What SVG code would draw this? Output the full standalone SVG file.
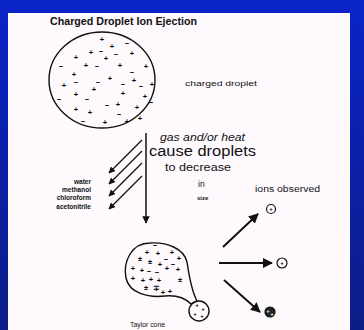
<svg xmlns="http://www.w3.org/2000/svg" width="364" height="330" viewBox="0 0 364 330">
  <defs>
    <linearGradient id="frame" x1="0" y1="0" x2="0" y2="1">
      <stop offset="0" stop-color="#0a24c8"/>
      <stop offset="1" stop-color="#0c1c86"/>
    </linearGradient>
    <marker id="headBig" viewBox="0 0 10 10" refX="9" refY="5" markerWidth="5" markerHeight="5" orient="auto" markerUnits="strokeWidth">
      <path d="M0,0 L10,5 L0,10 Z" fill="#111"/>
    </marker>
    <marker id="headSmall" viewBox="0 0 10 10" refX="9" refY="5" markerWidth="5.5" markerHeight="5.5" orient="auto" markerUnits="strokeWidth">
      <path d="M0,0 L10,5 L0,10 Z" fill="#111"/>
    </marker>
    <marker id="headDown" viewBox="0 0 10 10" refX="9" refY="5" markerWidth="5" markerHeight="5" orient="auto" markerUnits="strokeWidth">
      <path d="M0,0 L10,5 L0,10 Z" fill="#111"/>
    </marker>
  </defs>
  <style>
    .lbl { font-family: "Liberation Sans", Arial, sans-serif; fill: #111; }
    .sg { font-family: "Liberation Sans", Arial, sans-serif; font-weight: bold; fill: #000; text-anchor: middle; dominant-baseline: central; font-size: 7.5px; }
    .sgs { font-family: "Liberation Sans", Arial, sans-serif; font-weight: bold; fill: #000; text-anchor: middle; dominant-baseline: central; font-size: 6px; }
    .ln { stroke: #111; fill: none; }
    .shape { stroke: #111; stroke-width: 1.4; fill: #fdf9fd; }
  </style>

  <!-- frame and page -->
  <rect x="0" y="0" width="364" height="330" fill="url(#frame)"/>
  <rect x="8" y="13" width="342" height="317" fill="#fdf9fd"/>

  <text class="lbl" x="50" y="25" font-size="10" font-weight="bold" textLength="147" lengthAdjust="spacingAndGlyphs">Charged Droplet Ion Ejection</text>

  <!-- charged droplet -->
  <g id="droplet">
    <ellipse class="shape" cx="102" cy="80" rx="53" ry="48"/>
    <g>
      <text class="sg" x="102" y="39">+</text>
      <text class="sg" x="127" y="43">−</text>
      <text class="sg" x="112" y="46">+</text>
      <text class="sg" x="91" y="52">+</text>
      <text class="sg" x="101" y="51">−</text>
      <text class="sg" x="132" y="53">+</text>
      <text class="sg" x="116" y="54">−</text>
      <text class="sg" x="106" y="58">+</text>
      <text class="sg" x="76" y="57">+</text>
      <text class="sg" x="61" y="66">−</text>
      <text class="sg" x="86" y="65">+</text>
      <text class="sg" x="97" y="66">−</text>
      <text class="sg" x="120" y="65">+</text>
      <text class="sg" x="146" y="66">+</text>
      <text class="sg" x="132" y="72">−</text>
      <text class="sg" x="74" y="74">+</text>
      <text class="sg" x="110" y="78">+</text>
      <text class="sg" x="98" y="82">−</text>
      <text class="sg" x="76" y="82">−</text>
      <text class="sg" x="134" y="80">+</text>
      <text class="sg" x="123" y="84">−</text>
      <text class="sg" x="141" y="86">−</text>
      <text class="sg" x="152" y="84">+</text>
      <text class="sg" x="64" y="85">+</text>
      <text class="sg" x="94" y="89">+</text>
      <text class="sg" x="123" y="93">+</text>
      <text class="sg" x="145" y="96">+</text>
      <text class="sg" x="76" y="94">+</text>
      <text class="sg" x="87" y="99">−</text>
      <text class="sg" x="59" y="99">−</text>
      <text class="sg" x="118" y="104">+</text>
      <text class="sg" x="107" y="105">−</text>
      <text class="sg" x="137" y="107">+</text>
      <text class="sg" x="151" y="102">−</text>
      <text class="sg" x="76" y="109">+</text>
      <text class="sg" x="90" y="112">+</text>
      <text class="sg" x="119" y="114">−</text>
      <text class="sg" x="140" y="118">+</text>
      <text class="sg" x="83" y="121">−</text>
      <text class="sg" x="105" y="122">+</text>
      <text class="sg" x="127" y="121">+</text>
    </g>
  </g>
  <text class="lbl" x="185" y="86" font-size="8" textLength="72" lengthAdjust="spacingAndGlyphs">charged droplet</text>

  <!-- central captions -->
  <text class="lbl" x="160" y="141" font-size="10" font-style="italic" textLength="85" lengthAdjust="spacingAndGlyphs">gas and/or heat</text>
  <text class="lbl" x="149" y="156" font-size="14" textLength="107" lengthAdjust="spacingAndGlyphs">cause droplets</text>
  <text class="lbl" x="165" y="171" font-size="10" textLength="66" lengthAdjust="spacingAndGlyphs">to decrease</text>
  <text class="lbl" x="198" y="187" font-size="8.5">in</text>
  <text class="lbl" x="197" y="200" font-size="6" font-weight="bold">size</text>

  <!-- solvents -->
  <g id="solvents" class="lbl" font-size="6.5" font-weight="bold" text-anchor="end">
    <text x="91" y="184">water</text>
    <text x="91" y="192">methanol</text>
    <text x="91" y="200">chloroform</text>
    <text x="91" y="209">acetonitrile</text>
  </g>

  <!-- Taylor cone -->
  <g id="taylor-cone">
    <path class="shape" d="M150,243 C131,243 123,262 126,278 C129,293 148,298 165,296 C176,295 184,297 191,304 L197,301 C191,290 189,275 187,262 C184,249 168,242 150,243 Z"/>
    <circle class="shape" cx="199" cy="311" r="10"/>
    <g>
      <text class="sg" x="147" y="252">+</text>
      <text class="sg" x="155" y="245">−</text>
      <text class="sg" x="158" y="253">+</text>
      <text class="sg" x="166" y="259">−</text>
      <text class="sg" x="140" y="258">±</text>
      <text class="sg" x="150" y="261">±</text>
      <text class="sg" x="133" y="268">+</text>
      <text class="sg" x="142" y="270">+</text>
      <text class="sg" x="149" y="271">−</text>
      <text class="sg" x="157" y="272">−</text>
      <text class="sg" x="160" y="264">+</text>
      <text class="sg" x="167" y="268">+</text>
      <text class="sg" x="133" y="278">+</text>
      <text class="sg" x="143" y="280">+</text>
      <text class="sg" x="151" y="279">+</text>
      <text class="sg" x="159" y="280">+</text>
      <text class="sg" x="146" y="287">±</text>
      <text class="sg" x="156" y="288">∓</text>
      <text class="sg" x="163" y="292">+</text>
      <text class="sg" x="170" y="291">+</text>
      <text class="sg" x="172" y="252">+</text>
      <text class="sg" x="179" y="258">+</text>
      <text class="sg" x="173" y="264">−</text>
      <text class="sg" x="178" y="269">+</text>
      <text class="sg" x="180" y="279">±</text>
      <text class="sgs" x="197" y="305">+</text>
      <text class="sgs" x="203" y="309">+</text>
      <text class="sgs" x="195" y="314">+</text>
      <text class="sgs" x="202" y="316">+</text>
    </g>
  </g>
  <text class="lbl" x="130" y="327" font-size="7" textLength="35" lengthAdjust="spacingAndGlyphs">Taylor cone</text>

  <!-- observed ions -->
  <text class="lbl" x="255" y="192" font-size="8.5" textLength="65" lengthAdjust="spacingAndGlyphs">ions observed</text>
  <g id="ion-1">
    <circle cx="271" cy="209" r="4.5" fill="#fdf9fd" stroke="#111" stroke-width="1.2"/>
    <text class="sgs" x="271" y="209">+</text>
  </g>
  <g id="ion-2">
    <circle cx="282" cy="263" r="5" fill="#fdf9fd" stroke="#111" stroke-width="1.2"/>
    <text class="sgs" x="282" y="263">+</text>
  </g>
  <g id="ion-3">
    <circle cx="270" cy="312" r="5" fill="#222" stroke="#111" stroke-width="1.2"/>
    <text class="sgs" x="268" y="311" style="fill:#fdf9fd">+</text>
    <text class="sgs" x="272" y="314" style="fill:#fdf9fd">+</text>
  </g>

  <!-- connectors -->
  <g id="connectors">
    <line class="ln" x1="146" y1="133" x2="146" y2="223" stroke-width="1.5" marker-end="url(#headDown)"/>
    <line class="ln" x1="142" y1="140" x2="109" y2="173" stroke-width="1.2" marker-end="url(#headSmall)"/>
    <line class="ln" x1="142" y1="151" x2="109" y2="184" stroke-width="1.2" marker-end="url(#headSmall)"/>
    <line class="ln" x1="142" y1="163" x2="109" y2="196" stroke-width="1.2" marker-end="url(#headSmall)"/>
    <line class="ln" x1="142" y1="176" x2="109" y2="209" stroke-width="1.2" marker-end="url(#headSmall)"/>
    <line class="ln" x1="223" y1="247" x2="258" y2="214" stroke-width="2" marker-end="url(#headBig)"/>
    <line class="ln" x1="219" y1="263" x2="272" y2="263" stroke-width="2" marker-end="url(#headBig)"/>
    <line class="ln" x1="224" y1="280" x2="260" y2="312" stroke-width="2" marker-end="url(#headBig)"/>
  </g>
</svg>
